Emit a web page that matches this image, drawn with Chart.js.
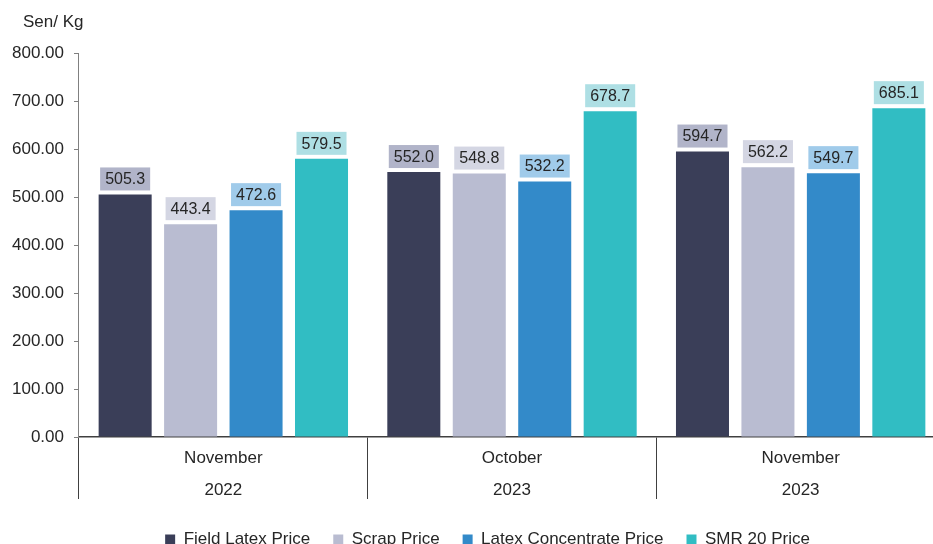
<!DOCTYPE html>
<html>
<head>
<meta charset="utf-8">
<script src="https://cdn.jsdelivr.net/npm/chart.js@4"></script>
<style>
  html, body { margin: 0; padding: 0; background: #fff; overflow: hidden; }
  #wrap { width: 945px; height: 558px; }
</style>
</head>
<body>
<div id="wrap"><canvas id="chart" width="945" height="558"></canvas></div>
<script>
const periods = [["November", "2022"], ["October", "2023"], ["November", "2023"]];
const seriesNames = ["Field Latex Price", "Scrap Price", "Latex Concentrate Price", "SMR 20 Price"];
const fieldLatex = [505.3, 552.0, 594.7];
const scrap = [443.4, 548.8, 562.2];
const latexConcentrate = [472.6, 532.2, 549.7];
const smr20 = [579.5, 678.7, 685.1];
const yTicks = [0, 100, 200, 300, 400, 500, 600, 700, 800];

const barColors = ["#3a3e58", "#b9bcd1", "#338ac9", "#31bdc3"];
const labelColors = ["#b1b4c9", "#d4d6e3", "#a0cbea", "#aedfe4"];
const FONT = "'Liberation Sans', Arial, sans-serif";

// value boxes above each bar + the unit text at top left
const valueBoxes = {
  id: "valueBoxes",
  afterLayout(chart) {
    // legend sits a bit right of centre in the original
    chart.legend.left += 14;
    chart.legend.right += 14;
  },
  afterDatasetsDraw(chart) {
    const ctx = chart.ctx;
    ctx.save();
    ctx.font = "16px " + FONT;
    ctx.textAlign = "center";
    ctx.textBaseline = "middle";
    chart.data.datasets.forEach((ds, i) => {
      chart.getDatasetMeta(i).data.forEach((bar, j) => {
        const text = ds.data[j].toFixed(1);
        const w = ctx.measureText(text).width + 10;
        const h = 23;
        const bottom = bar.y - 4;
        ctx.fillStyle = labelColors[i];
        ctx.fillRect(bar.x - w / 2, bottom - h, w, h);
        ctx.fillStyle = "#262626";
        ctx.fillText(text, bar.x, bottom - h / 2 + 1);
      });
    });
    ctx.font = "17px " + FONT;
    ctx.textAlign = "left";
    ctx.fillStyle = "#262626";
    ctx.fillText("Sen/ Kg", 23, 22);
    ctx.restore();
  }
};

const allSeries = [fieldLatex, scrap, latexConcentrate, smr20];

new Chart(document.getElementById("chart"), {
  type: "bar",
  data: {
    labels: periods,
    datasets: allSeries.map((values, i) => ({
      label: seriesNames[i],
      data: values,
      backgroundColor: barColors[i],
      barPercentage: 0.81,
      categoryPercentage: 0.907
    }))
  },
  options: {
    responsive: false,
    animation: false,
    devicePixelRatio: 1,
    layout: { padding: { top: 53, left: 2, right: 0, bottom: 0 } },
    plugins: {
      tooltip: { enabled: false },
      legend: {
        position: "bottom",
        labels: {
          boxWidth: 10,
          boxHeight: 10,
          padding: 23,
          color: "#262626",
          font: { family: FONT, size: 17 }
        }
      }
    },
    scales: {
      x: {
        afterFit: (scale) => { scale.height = 71; },
        grid: {
          offset: true,
          drawOnChartArea: false,
          drawTicks: true,
          tickLength: 62,
          color: "#404040",
          lineWidth: 1
        },
        border: { display: true, color: "#404040", width: 1.5 },
        ticks: {
          color: "#262626",
          font: { family: FONT, size: 17, lineHeight: 1.9 },
          padding: -57
        }
      },
      y: {
        min: 0,
        max: 800,
        afterBuildTicks: (axis) => { axis.ticks = yTicks.map(v => ({ value: v })); },
        grid: { drawOnChartArea: false, drawTicks: true, tickLength: 5, color: "#808080" },
        border: { display: true, color: "#808080" },
        ticks: {
          color: "#262626",
          padding: 10,
          font: { family: FONT, size: 17 },
          callback: (v) => Number(v).toFixed(2)
        }
      }
    }
  },
  plugins: [valueBoxes]
});
</script>
</body>
</html>
